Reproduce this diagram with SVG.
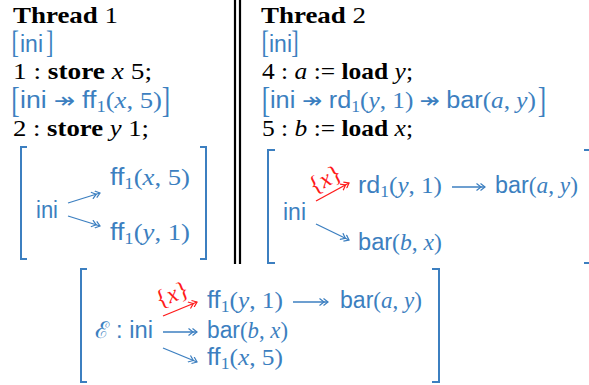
<svg xmlns="http://www.w3.org/2000/svg" width="589" height="385" viewBox="0 0 589 385">
<style>
text{font-family:"Liberation Serif",serif;font-size:23px}
.bf{font-weight:bold}
.it{font-style:italic}
.sf{font-family:"Liberation Sans",sans-serif}
.ar{font-family:"DejaVu Sans",sans-serif;font-size:22px}
.sub{font-size:16px}
.blue{fill:#3c7fc0}
.red{fill:#ff1a1a;font-size:24px}
.brk{fill:#3c7fc0;font-family:"Liberation Serif",serif}
.b32{font-size:32px}
.b36{font-size:36px}
.cal{font-family:"DejaVu Serif",serif}
.box{fill:none;stroke:#3c7fc0;stroke-width:2}
.dbl{stroke:#000;stroke-width:2.2}
.conn line{stroke:#3c7fc0;stroke-width:1.3;marker-end:url(#ah)}
.conn line.r{stroke:#ff1a1a;marker-end:url(#ahr)}
</style>
<defs>
<marker id="ah" viewBox="0 0 10 8" refX="9" refY="4" markerWidth="10" markerHeight="8" orient="auto" markerUnits="userSpaceOnUse">
<path d="M0.5,0.5 L5,4 L0.5,7.5 M4.5,0.5 L9,4 L4.5,7.5" fill="none" stroke="#3c7fc0" stroke-width="1.2"/>
</marker>
<marker id="ahr" viewBox="0 0 10 8" refX="9" refY="4" markerWidth="10" markerHeight="8" orient="auto" markerUnits="userSpaceOnUse">
<path d="M0.5,0.5 L5,4 L0.5,7.5 M4.5,0.5 L9,4 L4.5,7.5" fill="none" stroke="#ff1a1a" stroke-width="1.2"/>
</marker>
</defs>

<!-- separator -->
<g id="separator">
<line class="dbl" x1="235" y1="0" x2="235" y2="264"/>
<line class="dbl" x1="240" y1="0" x2="240" y2="264"/>
</g>

<!-- Thread 1 column -->
<g id="thread1">
<text x="13" y="22.5" textLength="105" lengthAdjust="spacingAndGlyphs"><tspan class="bf">Thread</tspan> 1</text>
<text class="brk b32" transform="translate(11.5,53) scale(0.7,1)">[</text>
<text class="sf blue" x="20" y="51.5" textLength="23" lengthAdjust="spacingAndGlyphs">ini</text>
<text class="brk b32" transform="translate(46,53) scale(0.7,1)">]</text>
<text x="13" y="78.5" textLength="139" lengthAdjust="spacingAndGlyphs">1 : <tspan class="bf">store</tspan> <tspan class="it">x</tspan> 5;</text>
<text class="brk b36" transform="translate(11.2,112) scale(0.7,1)">[</text>
<text class="blue" x="20" y="108" textLength="142" lengthAdjust="spacingAndGlyphs"><tspan class="sf">ini </tspan><tspan class="ar">↠</tspan> <tspan class="sf">ff</tspan><tspan class="sub" dy="4">1</tspan><tspan dy="-4">(</tspan><tspan class="it">x</tspan>, 5)</text>
<text class="brk b36" transform="translate(161.8,112) scale(0.7,1)">]</text>
<text x="13" y="136" textLength="136" lengthAdjust="spacingAndGlyphs">2 : <tspan class="bf">store</tspan> <tspan class="it">y</tspan> 1;</text>
</g>

<!-- Thread 2 column -->
<g id="thread2">
<text x="261" y="22.5" textLength="105" lengthAdjust="spacingAndGlyphs"><tspan class="bf">Thread</tspan> 2</text>
<text class="brk b32" transform="translate(261.5,53) scale(0.7,1)">[</text>
<text class="sf blue" x="269" y="51.5" textLength="23" lengthAdjust="spacingAndGlyphs">ini</text>
<text class="brk b32" transform="translate(291.2,53) scale(0.7,1)">]</text>
<text x="262" y="78.5" textLength="151" lengthAdjust="spacingAndGlyphs">4 : <tspan class="it">a</tspan> := <tspan class="bf">load</tspan> <tspan class="it">y</tspan>;</text>
<text class="brk b36" transform="translate(261.7,112) scale(0.7,1)">[</text>
<text class="blue" x="270" y="108" textLength="266" lengthAdjust="spacingAndGlyphs"><tspan class="sf">ini </tspan><tspan class="ar">↠</tspan> <tspan class="sf">rd</tspan><tspan class="sub" dy="4">1</tspan><tspan dy="-4">(</tspan><tspan class="it">y</tspan>, 1) <tspan class="ar">↠</tspan> <tspan class="sf">bar</tspan>(<tspan class="it">a</tspan>, <tspan class="it">y</tspan>)</text>
<text class="brk b36" transform="translate(537.8,112) scale(0.7,1)">]</text>
<text x="262" y="136" textLength="151" lengthAdjust="spacingAndGlyphs">5 : <tspan class="it">b</tspan> := <tspan class="bf">load</tspan> <tspan class="it">x</tspan>;</text>
</g>

<!-- boxes -->
<g id="brackets">
<path class="box" d="M27,147 H21 V259 H27"/>
<path class="box" d="M200,147 H206 V259 H200"/>
<path class="box" d="M275,150 H268 V263 H275"/>
<path class="box" d="M584,150 H590 V263 H584"/>
<path class="box" d="M87,269 H81 V382 H87"/>
<path class="box" d="M432,269 H439 V382 H432"/>
</g>

<!-- Thread 1 box nodes -->
<g id="t1-ini"><text class="sf blue" x="36" y="218" textLength="22" lengthAdjust="spacingAndGlyphs">ini</text></g>
<g id="t1-ff-x5"><text class="blue" x="110" y="185" textLength="80" lengthAdjust="spacingAndGlyphs"><tspan class="sf">ff</tspan><tspan class="sub" dy="4">1</tspan><tspan dy="-4">(</tspan><tspan class="it">x</tspan>, 5)</text></g>
<g id="t1-ff-y1"><text class="blue" x="110" y="240" textLength="80" lengthAdjust="spacingAndGlyphs"><tspan class="sf">ff</tspan><tspan class="sub" dy="4">1</tspan><tspan dy="-4">(</tspan><tspan class="it">y</tspan>, 1)</text></g>

<!-- Thread 2 box nodes -->
<g id="t2-ini"><text class="sf blue" x="283" y="220" textLength="23" lengthAdjust="spacingAndGlyphs">ini</text></g>
<g id="t2-rd-y1"><text class="blue" x="358" y="193" textLength="84" lengthAdjust="spacingAndGlyphs"><tspan class="sf">rd</tspan><tspan class="sub" dy="4">1</tspan><tspan dy="-4">(</tspan><tspan class="it">y</tspan>, 1)</text></g>
<g id="t2-bar-ay"><text class="blue" x="495" y="193" textLength="83" lengthAdjust="spacingAndGlyphs"><tspan class="sf">bar</tspan>(<tspan class="it">a</tspan>, <tspan class="it">y</tspan>)</text></g>
<g id="t2-bar-bx"><text class="blue" x="358" y="250" textLength="84" lengthAdjust="spacingAndGlyphs"><tspan class="sf">bar</tspan>(<tspan class="it">b</tspan>, <tspan class="it">x</tspan>)</text></g>

<!-- Combined box nodes -->
<g id="e-ini"><text class="blue" x="95" y="338" textLength="58" lengthAdjust="spacingAndGlyphs"><tspan class="cal">ℰ</tspan><tspan class="sf"> : ini</tspan></text></g>
<g id="e-ff-y1"><text class="blue" x="207" y="308" textLength="76" lengthAdjust="spacingAndGlyphs"><tspan class="sf">ff</tspan><tspan class="sub" dy="4">1</tspan><tspan dy="-4">(</tspan><tspan class="it">y</tspan>, 1)</text></g>
<g id="e-bar-ay"><text class="blue" x="340" y="308" textLength="82" lengthAdjust="spacingAndGlyphs"><tspan class="sf">bar</tspan>(<tspan class="it">a</tspan>, <tspan class="it">y</tspan>)</text></g>
<g id="e-bar-bx"><text class="blue" x="207" y="338" textLength="81" lengthAdjust="spacingAndGlyphs"><tspan class="sf">bar</tspan>(<tspan class="it">b</tspan>, <tspan class="it">x</tspan>)</text></g>
<g id="e-ff-x5"><text class="blue" x="207" y="365" textLength="76" lengthAdjust="spacingAndGlyphs"><tspan class="sf">ff</tspan><tspan class="sub" dy="4">1</tspan><tspan dy="-4">(</tspan><tspan class="it">x</tspan>, 5)</text></g>

<!-- connectors -->
<g id="connectors" class="conn">
<line x1="68" y1="203" x2="100" y2="193"/>
<line x1="68" y1="216" x2="100" y2="226"/>
<line class="r" x1="316" y1="201" x2="349" y2="183"/>
<line x1="316" y1="224" x2="349" y2="240"/>
<line x1="452" y1="187" x2="485" y2="187"/>
<line class="r" x1="163" y1="316" x2="197" y2="302"/>
<line x1="163" y1="332" x2="197" y2="332"/>
<line x1="163" y1="348" x2="197" y2="362"/>
<line x1="293" y1="302" x2="328" y2="302"/>
</g>

<!-- edge labels -->
<g id="labels">
<text class="red" x="325" y="187" text-anchor="middle" transform="rotate(-28 325 179)">{<tspan class="it">x</tspan>}</text>
<text class="red" x="172" y="302" text-anchor="middle" transform="rotate(-22 172 294)">{<tspan class="it">x</tspan>}</text>
</g>
</svg>
